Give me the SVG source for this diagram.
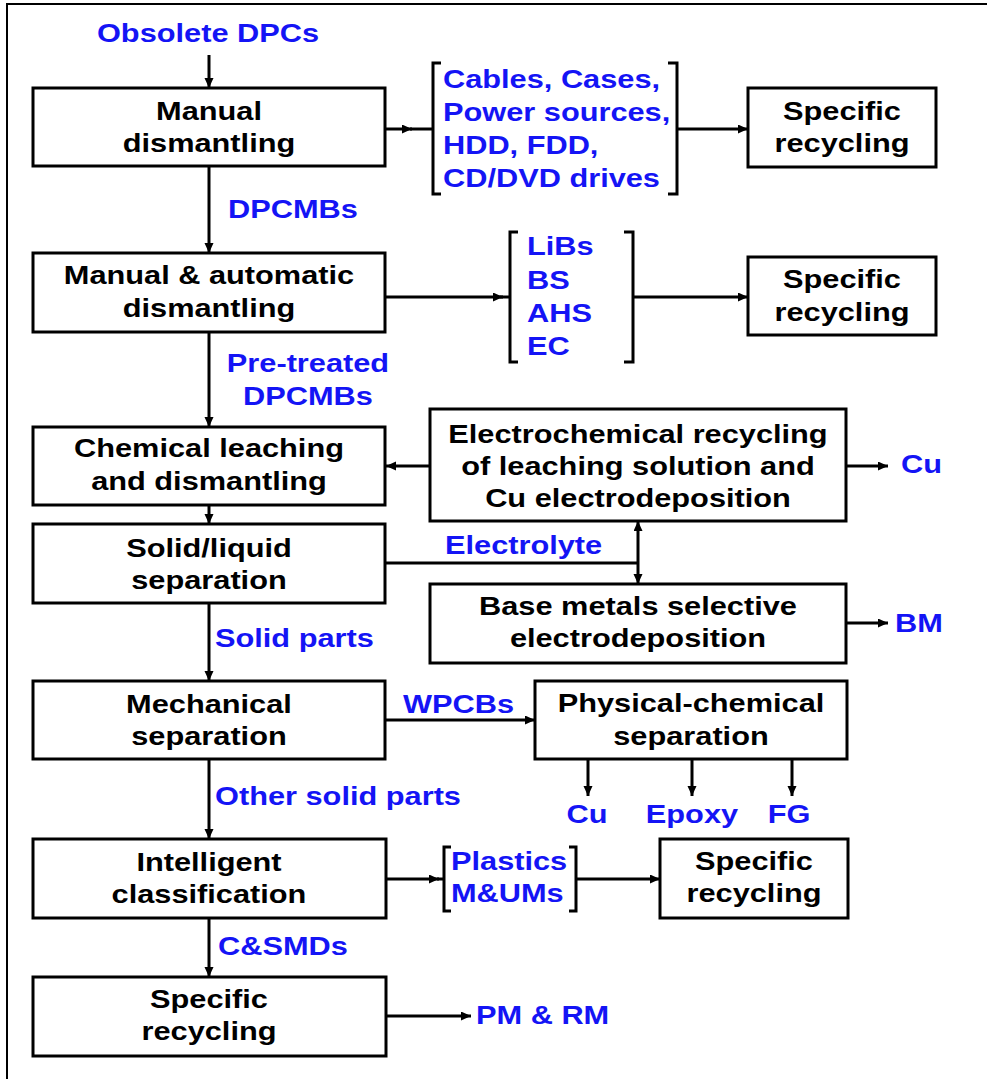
<svg xmlns="http://www.w3.org/2000/svg" width="987" height="1079" viewBox="0 0 987 1079">
<style>
text { font-family: "Liberation Sans", Arial, sans-serif; font-weight: bold; font-size: 25px; transform-box: fill-box; transform: scaleX(1.23); }
.c { text-anchor: middle; transform-origin: center; }
.s { text-anchor: start; transform-origin: left center; }
.k { fill: #000; }
.b { fill: #1414F5; }
.box { fill: #fff; stroke: #000; stroke-width: 3; }
.ln { fill: none; stroke: #000; stroke-width: 3; }
.ar { marker-end: url(#ah); }
.frame { fill: none; stroke: #000; stroke-width: 2; }
</style>
<defs>
<marker id="ah" markerUnits="userSpaceOnUse" markerWidth="11" markerHeight="10" refX="10" refY="4.5" orient="auto-start-reverse">
<path d="M0,0 L10,4.5 L0,9 z" fill="#000"/>
</marker>
</defs>
<rect width="987" height="1079" fill="#fff"/>
<path class="frame" d="M7,1079 V4 H987"/>

<g id="connectors">
<line class="ln ar" x1="209" y1="55" x2="209" y2="88"/>
<line class="ln ar" x1="209" y1="166" x2="209" y2="253"/>
<line class="ln ar" x1="209" y1="332" x2="209" y2="427"/>
<line class="ln ar" x1="209" y1="505" x2="209" y2="524"/>
<line class="ln ar" x1="209" y1="603" x2="209" y2="681"/>
<line class="ln ar" x1="209" y1="759" x2="209" y2="839"/>
<line class="ln ar" x1="209" y1="918" x2="209" y2="977"/>
<line class="ln ar" x1="385" y1="129" x2="412" y2="129"/>
<line class="ln" x1="410" y1="129" x2="433" y2="129"/>
<line class="ln ar" x1="677" y1="129" x2="748" y2="129"/>
<line class="ln ar" x1="385" y1="297" x2="503" y2="297"/>
<line class="ln" x1="500" y1="297" x2="510" y2="297"/>
<line class="ln ar" x1="633" y1="297" x2="748" y2="297"/>
<line class="ln ar" x1="430" y1="466" x2="386" y2="466"/>
<line class="ln ar" x1="846" y1="466" x2="888" y2="466"/>
<line class="ln" x1="385" y1="563" x2="638" y2="563"/>
<line class="ln" x1="638" y1="521" x2="638" y2="584" marker-start="url(#ah)" marker-end="url(#ah)"/>
<line class="ln ar" x1="846" y1="623" x2="888" y2="623"/>
<line class="ln ar" x1="385" y1="720" x2="535" y2="720"/>
<line class="ln ar" x1="588" y1="759" x2="588" y2="796"/>
<line class="ln ar" x1="692" y1="759" x2="692" y2="796"/>
<line class="ln ar" x1="792" y1="759" x2="792" y2="796"/>
<line class="ln ar" x1="385" y1="879" x2="439" y2="879"/>
<line class="ln" x1="437" y1="879" x2="444" y2="879"/>
<line class="ln ar" x1="576" y1="879" x2="660" y2="879"/>
<line class="ln ar" x1="386" y1="1016" x2="471" y2="1016"/>
</g>

<g id="labels">
<text class="b c" x="208" y="42">Obsolete DPCs</text>
<text class="b s" x="228" y="218">DPCMBs</text>
<text class="b c" x="308" y="372">Pre-treated</text>
<text class="b c" x="308" y="405">DPCMBs</text>
<text class="b s" x="445" y="554">Electrolyte</text>
<text class="b s" x="215" y="647">Solid parts</text>
<text class="b s" x="403" y="713">WPCBs</text>
<text class="b s" x="215" y="805">Other solid parts</text>
<text class="b s" x="218" y="955">C&amp;SMDs</text>
<text class="b s" x="901" y="473">Cu</text>
<text class="b s" x="895" y="632">BM</text>
<text class="b c" x="587" y="823">Cu</text>
<text class="b c" x="692" y="823">Epoxy</text>
<text class="b c" x="789" y="823">FG</text>
<text class="b s" x="476" y="1024">PM &amp; RM</text>
</g>

<g id="list-components">
<path class="ln" d="M441,63 H433 V194 H441"/>
<path class="ln" d="M668,63 H677 V194 H668"/>
<text class="b s" x="443"><tspan x="443" y="88">Cables, Cases,</tspan><tspan x="443" y="121">Power sources,</tspan><tspan x="443" y="154">HDD, FDD,</tspan><tspan x="443" y="187">CD/DVD drives</tspan></text>
</g>

<g id="list-parts">
<path class="ln" d="M518,232 H510 V362 H518"/>
<path class="ln" d="M624,232 H633 V362 H624"/>
<text class="b s" x="527"><tspan x="527" y="255">LiBs</tspan><tspan x="527" y="289">BS</tspan><tspan x="527" y="322">AHS</tspan><tspan x="527" y="355">EC</tspan></text>
</g>

<g id="list-plastics">
<path class="ln" d="M451,847 H444 V911 H451"/>
<path class="ln" d="M569,847 H576 V911 H569"/>
<text class="b s" x="451"><tspan x="451" y="870">Plastics</tspan><tspan x="451" y="902">M&amp;UMs</tspan></text>
</g>

<g id="n-manual">
<rect class="box" x="33" y="88" width="352" height="78"/>
<text class="k c" x="209"><tspan x="209" y="120">Manual</tspan><tspan x="209" y="152">dismantling</tspan></text>
</g>
<g id="n-specific1">
<rect class="box" x="748" y="88" width="188" height="79"/>
<text class="k c" x="842"><tspan x="842" y="120">Specific</tspan><tspan x="842" y="152">recycling</tspan></text>
</g>
<g id="n-manual-auto">
<rect class="box" x="33" y="253" width="352" height="79"/>
<text class="k c" x="209"><tspan x="209" y="284">Manual &amp; automatic</tspan><tspan x="209" y="317">dismantling</tspan></text>
</g>
<g id="n-specific2">
<rect class="box" x="748" y="257" width="188" height="78"/>
<text class="k c" x="842"><tspan x="842" y="288">Specific</tspan><tspan x="842" y="321">recycling</tspan></text>
</g>
<g id="n-chemical">
<rect class="box" x="33" y="427" width="352" height="78"/>
<text class="k c" x="209"><tspan x="209" y="457">Chemical leaching</tspan><tspan x="209" y="490">and dismantling</tspan></text>
</g>
<g id="n-electrochem">
<rect class="box" x="430" y="409" width="416" height="112"/>
<text class="k c" x="638"><tspan x="638" y="443">Electrochemical recycling</tspan><tspan x="638" y="475">of leaching solution and</tspan><tspan x="638" y="507">Cu electrodeposition</tspan></text>
</g>
<g id="n-solid-liquid">
<rect class="box" x="33" y="524" width="352" height="79"/>
<text class="k c" x="209"><tspan x="209" y="557">Solid/liquid</tspan><tspan x="209" y="589">separation</tspan></text>
</g>
<g id="n-base-metals">
<rect class="box" x="430" y="584" width="416" height="79"/>
<text class="k c" x="638"><tspan x="638" y="615">Base metals selective</tspan><tspan x="638" y="647">electrodeposition</tspan></text>
</g>
<g id="n-mechanical">
<rect class="box" x="33" y="681" width="352" height="78"/>
<text class="k c" x="209"><tspan x="209" y="713">Mechanical</tspan><tspan x="209" y="745">separation</tspan></text>
</g>
<g id="n-physchem">
<rect class="box" x="535" y="681" width="312" height="78"/>
<text class="k c" x="691"><tspan x="691" y="712">Physical-chemical</tspan><tspan x="691" y="745">separation</tspan></text>
</g>
<g id="n-intelligent">
<rect class="box" x="33" y="839" width="353" height="79"/>
<text class="k c" x="209"><tspan x="209" y="871">Intelligent</tspan><tspan x="209" y="903">classification</tspan></text>
</g>
<g id="n-specific3">
<rect class="box" x="660" y="839" width="188" height="79"/>
<text class="k c" x="754"><tspan x="754" y="870">Specific</tspan><tspan x="754" y="902">recycling</tspan></text>
</g>
<g id="n-specific4">
<rect class="box" x="33" y="977" width="353" height="79"/>
<text class="k c" x="209"><tspan x="209" y="1008">Specific</tspan><tspan x="209" y="1040">recycling</tspan></text>
</g>
</svg>
